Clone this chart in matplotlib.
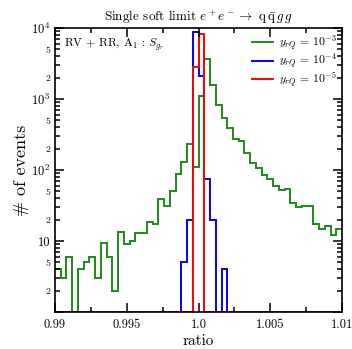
import numpy as np
import matplotlib
matplotlib.use("Agg")
import matplotlib.pyplot as plt
from matplotlib.ticker import FixedLocator, FixedFormatter

plt.rcParams['mathtext.fontset'] = 'cm'
plt.rcParams['font.family'] = 'serif'
plt.rcParams['font.serif'] = ['cmr10', 'DejaVu Serif']
plt.rcParams['axes.unicode_minus'] = False
plt.rcParams['axes.formatter.use_mathtext'] = True

# bins: 50 bins from 0.99 to 1.01
x_min, x_max, n_bins = 0.99, 1.01, 50
edges = np.linspace(x_min, x_max, n_bins + 1)

green_vals = [4, 3, 6, 0, 4, 5, 6, 3, 9.3, 6,
              2, 13.2, 9.1, 10, 13, 13, 18.3, 17.3, 38.7, 31.4,
              50.5, 88, 131, 233, 111, 1100, 3650, 1580, 830, 534,
              395, 270, 254, 172, 124, 105, 86, 74, 60, 52,
              54, 34, 30, 31, 31, 17.4, 14.6, 16.4, 12.2, 14.6]
blue_vals = [0] * 22 + [5, 20, 8700, 2100, 75, 20, 0, 4] + [0] * 20
red_vals = [0] * 24 + [2850, 8150] + [0] * 24

labels = [r'$y_{rQ}\, =\, 10^{-3}$', r'$y_{rQ}\, =\, 10^{-4}$', r'$y_{rQ}\, =\, 10^{-5}$']
colors = ['#1a8c1a', '#0000ff', '#ff0000']

fig = plt.figure(figsize=(3.52, 3.49), dpi=100)
ax = fig.add_axes([0.156, 0.106, 0.816, 0.814])

for vals, lab, col in zip([green_vals, blue_vals, red_vals], labels, colors):
    v = np.array(vals, dtype=float)
    v[v <= 0] = 1.0
    ax.stairs(v, edges, baseline=None, color=col, lw=1.4, label=lab)

ax.set_yscale('log')
ax.set_xlim(x_min, x_max)
ax.set_ylim(1, 1e4)

# x ticks
ax.xaxis.set_major_locator(FixedLocator([0.99, 0.995, 1.0, 1.005, 1.01]))
ax.xaxis.set_major_formatter(FixedFormatter(['0.99', '0.995', '1.0', '1.005', '1.01']))
ax.xaxis.set_minor_locator(FixedLocator([0.9925, 0.9975, 1.0025, 1.0075]))

# y ticks
ax.yaxis.set_major_locator(FixedLocator([1, 10, 100, 1000, 10000]))
ax.yaxis.set_major_formatter(FixedFormatter(['', '10', r'$10^2$', r'$10^3$', r'$10^4$']))
minor = []
minor_lab = []
for d in [1, 10, 100, 1000]:
    for m in range(2, 10):
        minor.append(m * d)
        minor_lab.append(str(m) if m in (2, 5) else '')
ax.yaxis.set_minor_locator(FixedLocator(minor))
ax.yaxis.set_minor_formatter(FixedFormatter(minor_lab))

ax.tick_params(which='both', direction='in', top=True, right=True, width=1.1)
ax.tick_params(which='major', length=6.5, labelsize=9)
ax.tick_params(which='minor', length=3.6, labelsize=7)
ax.tick_params(axis='x', which='major', pad=5)
for s in ax.spines.values():
    s.set_linewidth(1.2)

ax.set_xlabel('ratio', fontsize=11, labelpad=2)
ax.set_ylabel('# of events', fontsize=13, labelpad=1)
ax.set_title(r'Single soft limit $e^+e^- \to$ q$\,\bar{\rm q}\,g\,g$', fontsize=9.5, pad=5)

ax.text(0.03, 0.97, r'RV + RR, A$_1$ : $S_{g_r}$', transform=ax.transAxes,
        fontsize=8.5, va='top', ha='left')

leg = ax.legend(loc='upper right', frameon=False, fontsize=8.5, handlelength=1.8,
                borderaxespad=0.15, labelspacing=-0.1, handletextpad=0.45,
                borderpad=0.3)

fig.savefig('out.png', dpi=100)
